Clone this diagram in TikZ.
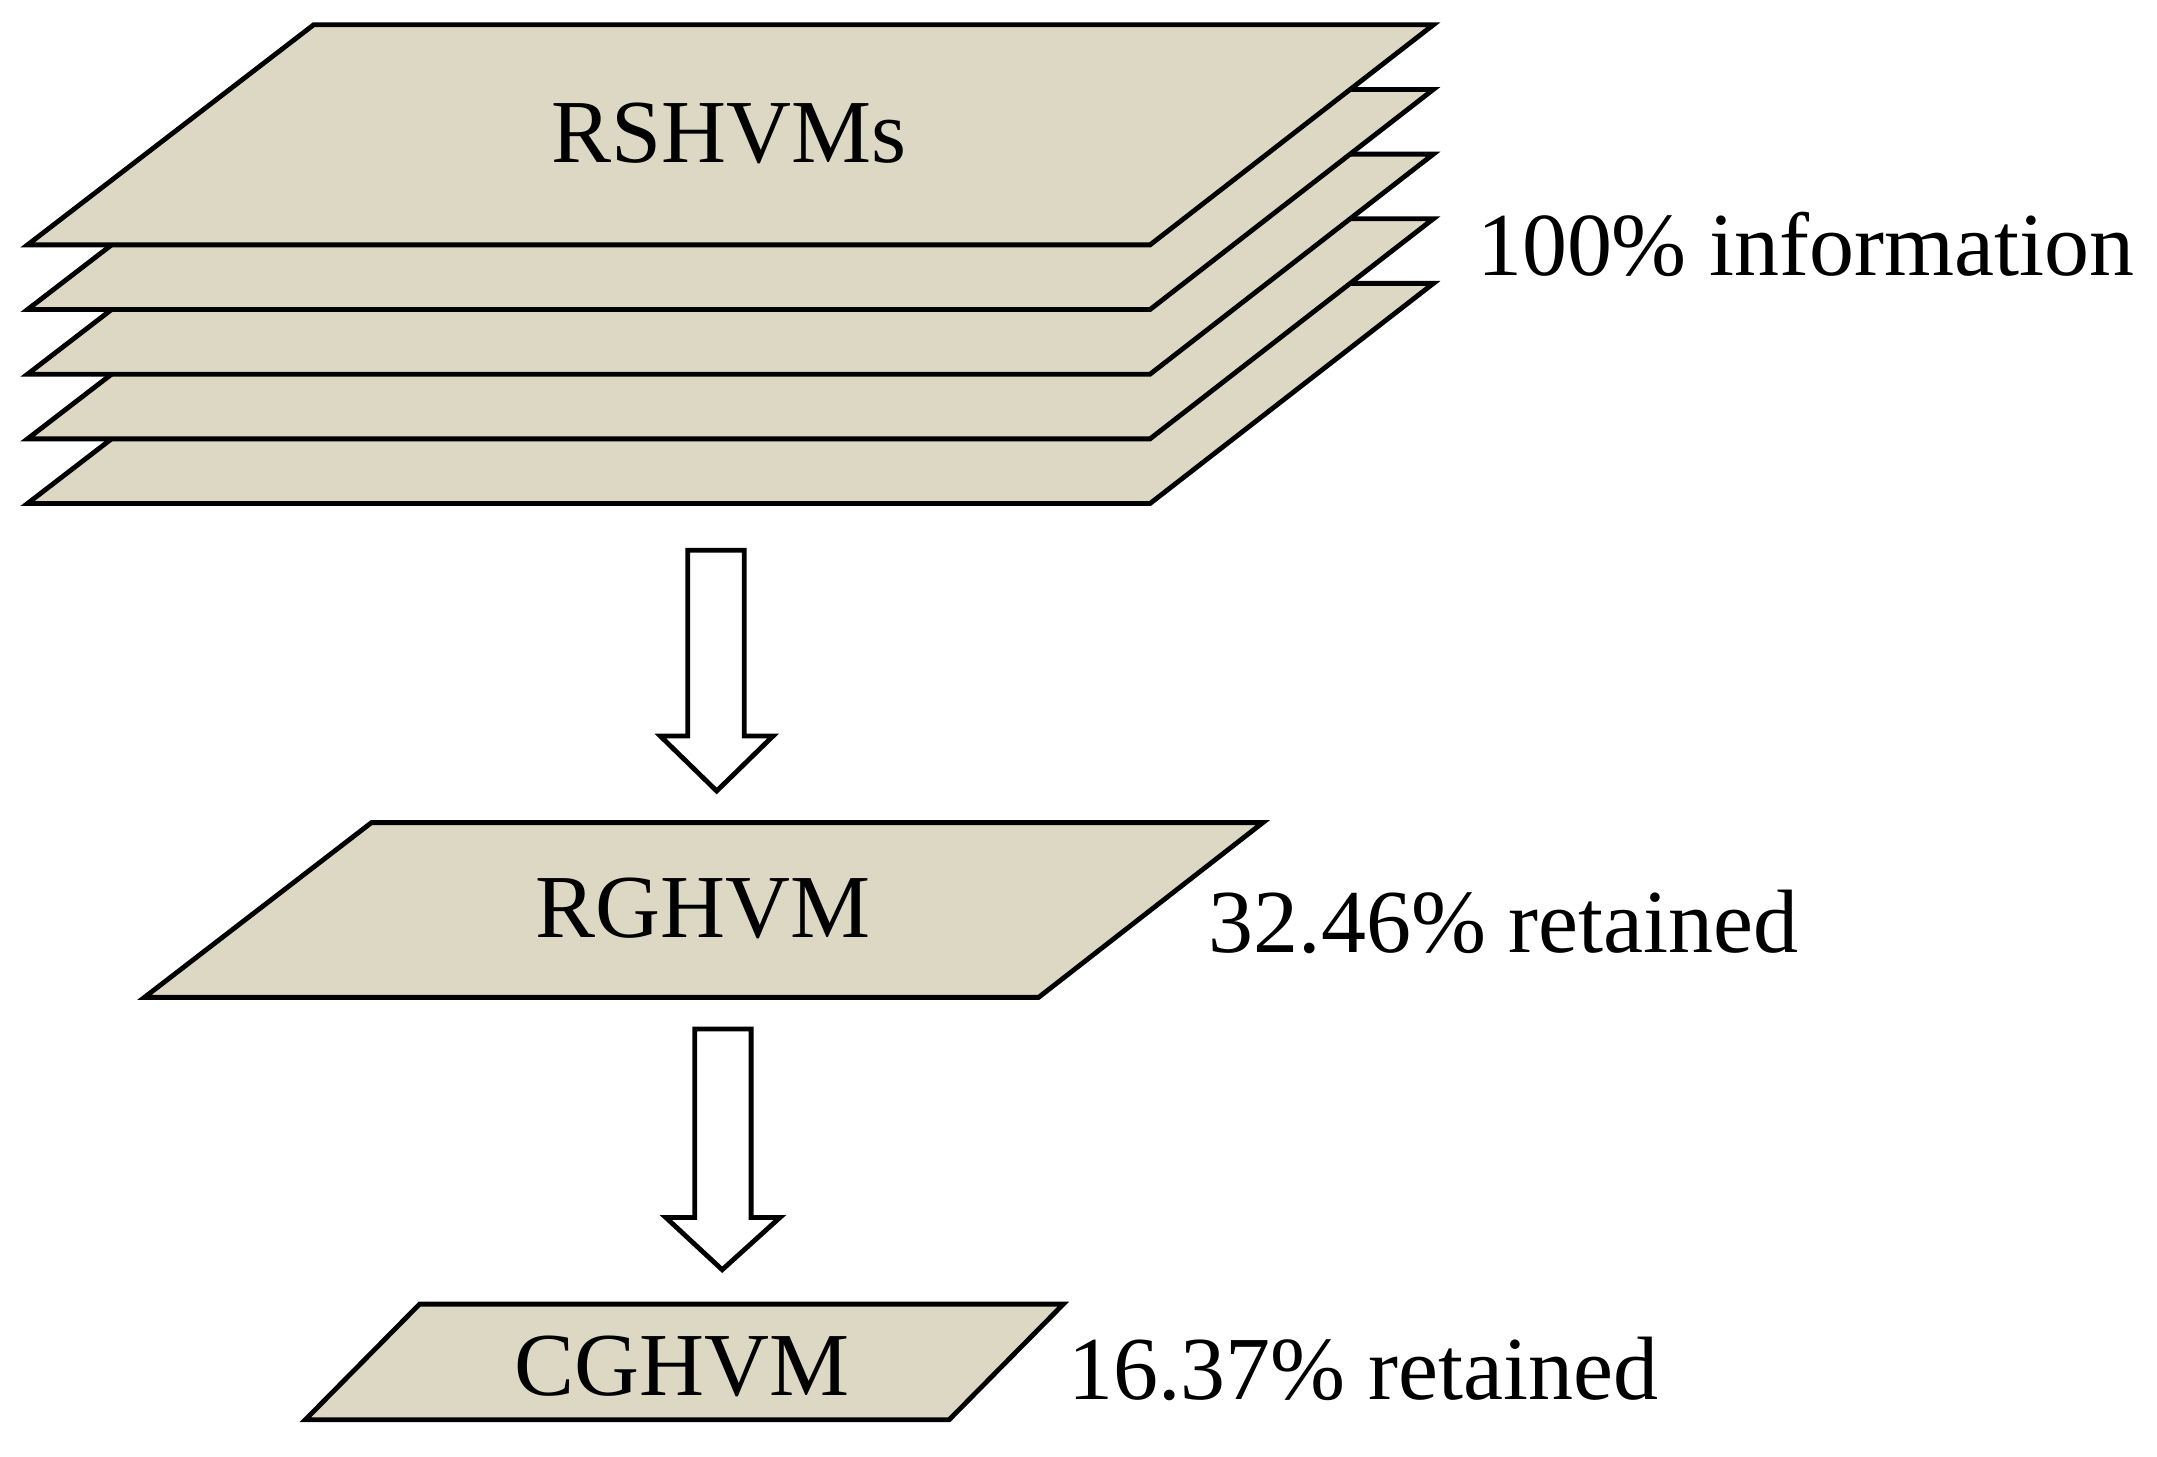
\documentclass[tikz,border=0pt]{standalone}
\usepackage{fontspec}
\setmainfont{Liberation Serif}
\begin{document}
\begin{tikzpicture}[x=0.01cm,y=-0.01cm,
  sheet/.style={draw=black,line width=1pt,fill=paper,line join=miter},
  bigarrow/.style={draw=black,line width=1pt,fill=white},
  lbl/.style={font=\fontsize{18.6}{22}\selectfont,inner sep=0pt}]
\definecolor{paper}{RGB}{221,216,196}
\useasboundingbox (0,0) rectangle (1568,1059);
% stack of layers (bottom first)
\foreach \d in {188,141,94,47,0}{
  \draw[sheet] (228,18+\d) -- (1042,18+\d) -- (836,178+\d) -- (20,178+\d) -- cycle;
}
\node[lbl] (rs) at (530,97) {RSHVMs};
\node[lbl,anchor=west] (info) at (1073,178) {100\% information};
% arrow 1
\draw[bigarrow] (500,400) -- (541,400) -- (541,535) -- (562,535) -- (521,575) -- (480,535) -- (500,535) -- cycle;
% RGHVM
\draw[sheet] (270,598) -- (918,598) -- (755,725) -- (105,725) -- cycle;
\node[lbl] (rg) at (511,660) {RGHVM};
\node[lbl,anchor=west] (rgl) at (878,670) {32.46\% retained};
% arrow 2
\draw[bigarrow] (505,748) -- (546,748) -- (546,885) -- (567,885) -- (525,923) -- (484,885) -- (505,885) -- cycle;
% CGHVM
\draw[sheet] (305,948) -- (773,948) -- (690,1032) -- (222,1032) -- cycle;
\node[lbl] (cg) at (496,993) {CGHVM};
\node[lbl,anchor=west] (cgl) at (776,995) {16.37\% retained};
\end{tikzpicture}
\end{document}
